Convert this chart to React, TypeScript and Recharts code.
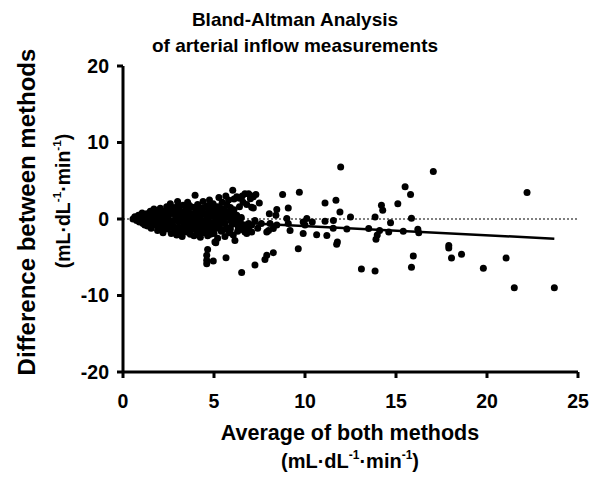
import { ScatterChart, Scatter, XAxis, YAxis, ReferenceLine } from 'recharts'

// [average, difference] pairs
const clusterPoints: [number, number][] = [
  [0.55, 0.0], [0.65, 0.3], [0.75, -0.2], [0.85, 0.5], [0.9, -0.4], [1.0, 0.1], [1.05, 0.8], [1.1, -0.6],
  [1.2, 0.3], [1.25, -0.1], [1.3, 0.7], [1.35, -0.9], [1.4, 0.2], [1.45, -0.4], [1.5, 1.0],
  [1.55, -1.2], [1.6, 0.5], [1.65, -0.3], [1.7, 1.3], [1.75, 0.0], [1.8, -0.8], [1.85, 0.7], [1.9, -1.5],
  [1.95, 0.3], [2.0, -0.5], [2.05, 1.4], [2.1, -1.0], [2.15, 0.6], [2.2, -1.8], [2.25, 0.1], [2.3, 1.0],
  [2.35, -0.7], [2.4, 1.6], [2.45, -1.3], [2.5, 0.4], [2.55, -0.2], [2.6, 2.0], [2.65, -1.9], [2.7, 0.8],
  [2.75, -0.9], [2.8, 1.5], [2.85, -1.5], [2.9, 0.2], [2.95, -2.1], [3.0, 2.3], [3.05, -0.4], [3.1, 1.1],
  [3.15, -1.2], [3.2, 0.5], [3.25, -2.3], [3.3, 1.8], [3.35, -0.8], [3.4, 0.0], [3.45, 1.3], [3.5, -1.7],
  [3.55, 2.2], [3.6, -0.3], [3.65, 0.8], [3.7, -2.0], [3.75, 1.6], [3.8, -1.0], [3.85, 0.3], [3.9, -2.2],
  [3.96, 3.1], [4.0, 1.0], [4.05, -0.6], [4.1, 1.9], [4.15, -1.4], [4.2, 0.5], [4.25, -2.4], [4.3, 1.4],
  [4.35, -0.2], [4.4, 2.3], [4.45, -1.8], [4.5, 0.7], [4.55, -0.9], [4.6, 1.7], [4.65, -2.2], [4.7, 0.1],
  [4.75, 2.5], [4.8, -1.3], [4.85, 1.2], [4.9, -0.5], [4.95, 2.0], [5.0, -1.9], [5.05, 0.4], [5.1, -3.1],
  [5.15, 1.6], [5.2, -2.5], [5.27, 2.8], [5.3, -0.8], [5.35, 0.9], [5.4, -1.6], [5.45, 2.2], [5.5, -0.2],
  [5.55, 1.3], [5.6, -2.3], [5.65, 3.0], [5.7, -1.1], [5.75, 0.6], [5.8, 2.5], [5.85, -1.8], [5.9, 0.0],
  [6.03, 3.75], [6.0, -0.7],
  [1.15, 0.4], [1.6, -0.7], [2.0, 0.9], [2.4, -0.1], [2.7, -0.5], [3.0, 0.6], [3.2, -1.6], [3.5, 0.7],
  [3.6, 1.3], [3.8, -0.5], [4.0, -1.4], [4.2, 1.2], [4.4, -0.6], [4.6, 0.4], [4.9, 0.8], [5.1, -1.2],
  [5.3, 1.6], [5.5, -1.4], [5.7, 1.9], [5.9, -1.3], [6.1, 1.2], [6.4, 1.6], [6.6, 2.2], [6.8, 1.9],
  [2.2, 0.4], [2.9, 1.2], [3.4, -1.1], [3.7, 0.0], [4.3, -1.1], [4.8, -2.0], [5.2, 0.1], [5.8, 0.9],
  [1.3, -0.4], [1.5, 0.4], [1.7, -0.2], [1.8, 0.4], [1.9, 1.0], [2.1, 0.2], [2.3, -0.4], [2.5, 1.2],
  [2.6, -1.0], [2.6, 0.9], [2.8, -0.2], [2.8, 0.7], [3.0, -1.2], [3.0, 1.6], [3.1, -0.1], [3.3, -0.3],
  [3.3, 0.9], [3.5, 0.2], [3.5, -0.8], [3.6, 1.9], [3.7, -1.4], [3.9, 0.7], [3.9, -1.0], [3.9, 1.5],
  [4.1, 0.0], [4.1, -0.9], [4.2, -1.9], [4.3, 0.6], [4.4, 1.4], [4.5, -1.3], [4.5, -0.2], [4.6, -1.6],
  [4.7, 1.0], [4.7, -0.7], [4.8, 1.8], [4.9, -1.2], [5.0, 0.3], [5.0, 1.4], [5.1, -0.5], [5.2, 0.8],
  [5.3, -1.2], [5.4, 0.3], [5.5, 0.8], [5.6, -0.6], [5.7, 0.2], [5.8, -1.5], [5.9, 1.5], [6.0, 0.5],
  [6.2, -0.5], [6.3, -1.6], [6.5, -1.0], [6.7, -0.8], [6.9, -1.3], [6.2, 0.0], [6.5, 0.2], [2.2, -1.1],
  [2.0, -1.3], [1.4, -0.8], [1.2, -0.8], [1.0, -0.3],
]

const armPoints: [number, number][] = [
  [6.1, 2.6], [6.25, 2.9], [6.4, 2.7], [6.55, 3.0], [6.7, 3.3], [6.9, 3.3], [6.98, 3.1], [7.16, 2.9],
  [7.3, 3.2], [7.0, 2.65], [7.07, 1.55], [7.16, 1.45], [7.49, 2.1], [6.25, 0.5],
  [6.06, -2.1], [6.15, -2.8], [6.33, -1.05], [6.45, -0.4], [6.6, -1.4], [6.7, -1.7], [6.8, -1.9],
  [6.9, -0.6], [7.07, -0.8], [7.07, -1.7], [7.25, -0.2], [7.4, -1.2], [7.6, -0.6],
]

const lowPoints: [number, number][] = [
  [4.65, -4.0], [4.6, -4.75], [4.6, -5.4], [4.6, -5.85], [4.96, -5.5], [5.66, -5.05], [5.05, -3.0],
  [6.52, -7.0], [7.25, -6.0], [7.8, -5.3], [7.9, -4.75], [8.26, -4.4], [9.63, -3.9],
]

const midPoints: [number, number][] = [
  [8.77, 3.2], [9.69, 3.5], [8.45, 1.25], [8.4, 0.5], [9.08, 1.45], [8.04, 0.7], [11.1, 2.1], [11.7, 2.45],
  [11.92, 0.9], [11.96, 6.8], [8.08, -0.6], [8.26, -1.25], [7.9, -1.7], [8.45, -0.8], [9.0, 0.05],
  [9.08, -0.6], [9.18, -1.5], [9.9, -0.4], [9.9, -1.9], [10.0, -0.8], [10.64, -2.05], [11.1, -0.3],
  [11.2, -2.15], [11.56, -0.2], [11.55, -1.2], [11.78, -3.0], [11.74, -3.3], [12.3, -1.3], [12.5, 0.25],
  [10.1, 0.05], [10.4, -0.4], [8.0, -1.5],
]

const farPoints: [number, number][] = [
  [13.1, -6.55], [13.85, -6.8], [13.5, -1.25], [13.85, 0.25], [14.2, 1.8], [14.27, 1.15], [14.7, -0.5],
  [14.6, -1.7], [14.1, -1.5], [13.97, -2.1], [13.9, -2.65], [15.1, 2.0], [15.5, 4.2], [15.8, 3.2],
  [15.85, 0.1], [15.4, -1.6], [16.2, -1.35], [16.25, -1.8], [15.95, -4.85], [15.85, -6.3], [17.05, 6.2],
  [17.9, -3.45], [17.9, -3.8], [18.05, -5.1], [18.6, -4.6], [19.8, -6.45], [21.05, -5.1], [21.5, -9.0],
  [22.2, 3.45], [23.7, -9.0],
]

// linear trend of difference vs average (end points)
const trendAvg = [0.55, 23.7]
const trendDiff = [0.2, -2.57]

const xTicks = [0, 5, 10, 15, 20, 25]
const yTicks = [-20, -10, 0, 10, 20]

const points = [...clusterPoints, ...armPoints, ...lowPoints, ...midPoints, ...farPoints].map(([avg, diff]) => ({
  avg,
  diff,
}))

const FONT = '"Liberation Sans", Arial, Helvetica, sans-serif'
const tickStyle = { fill: '#000', fontSize: 19.5, fontWeight: 'bold' as const, fontFamily: FONT }

const Dot = (props: any) => <circle cx={props.cx} cy={props.cy} r={3.5} fill="#000" />

const Units = ({ size }: { size: number }) => (
  <span>
    (mL·dL<sup style={{ fontSize: size * 0.6, verticalAlign: 'top', lineHeight: 1 }}>-1</sup>·min
    <sup style={{ fontSize: size * 0.6, verticalAlign: 'top', lineHeight: 1 }}>-1</sup>)
  </span>
)

export default function App() {
  return (
    <div
      style={{
        position: 'absolute',
        left: 0,
        top: 0,
        width: 595,
        height: 483,
        background: '#fff',
        fontFamily: FONT,
        fontWeight: 'bold',
        color: '#000',
      }}
    >
      <ScatterChart width={595} height={483} margin={{ top: 66, right: 17, bottom: 0, left: 0 }}>
        <XAxis
          type="number"
          dataKey="avg"
          domain={[0, 25]}
          ticks={xTicks}
          height={111}
          tick={tickStyle}
          tickSize={6}
          tickMargin={16}
          axisLine={{ stroke: '#000', strokeWidth: 3 }}
          tickLine={{ stroke: '#000', strokeWidth: 3 }}
        />
        <YAxis
          type="number"
          dataKey="diff"
          domain={[-20, 20]}
          ticks={yTicks}
          width={123}
          tick={tickStyle}
          tickSize={6}
          tickMargin={8}
          axisLine={{ stroke: '#000', strokeWidth: 3 }}
          tickLine={{ stroke: '#000', strokeWidth: 3 }}
        />
        <ReferenceLine y={0} stroke="#000" strokeWidth={1.2} strokeDasharray="2 2" />
        <Scatter data={points} shape={Dot} isAnimationActive={false} />
        <ReferenceLine
          segment={[
            { x: trendAvg[0], y: trendDiff[0] },
            { x: trendAvg[1], y: trendDiff[1] },
          ]}
          stroke="#000"
          strokeWidth={2.5}
        />
      </ScatterChart>

      {/* title */}
      <div style={{ position: 'absolute', left: 0, top: 7, width: 590, textAlign: 'center', fontSize: 19, lineHeight: '26px' }}>
        Bland-Altman Analysis
        <br />
        of arterial inflow measurements
      </div>

      {/* y axis label */}
      <div
        style={{
          position: 'absolute',
          left: 27 - 200,
          top: 212 - 14,
          width: 400,
          height: 28,
          lineHeight: '28px',
          textAlign: 'center',
          fontSize: 24,
          transform: 'rotate(-90deg)',
          whiteSpace: 'nowrap',
        }}
      >
        Difference between methods
      </div>
      <div
        style={{
          position: 'absolute',
          left: 63 - 100,
          top: 201 - 12,
          width: 200,
          height: 24,
          lineHeight: '24px',
          textAlign: 'center',
          fontSize: 19.5,
          transform: 'rotate(-90deg)',
          whiteSpace: 'nowrap',
        }}
      >
        <Units size={19.5} />
      </div>

      {/* x axis label */}
      <div style={{ position: 'absolute', left: 150, top: 433 - 13, width: 400, textAlign: 'center', fontSize: 21.5, lineHeight: '26px' }}>
        Average of both methods
      </div>
      <div style={{ position: 'absolute', left: 250, top: 461 - 12, width: 200, textAlign: 'center', fontSize: 20, lineHeight: '24px' }}>
        <Units size={20} />
      </div>
    </div>
  )
}
